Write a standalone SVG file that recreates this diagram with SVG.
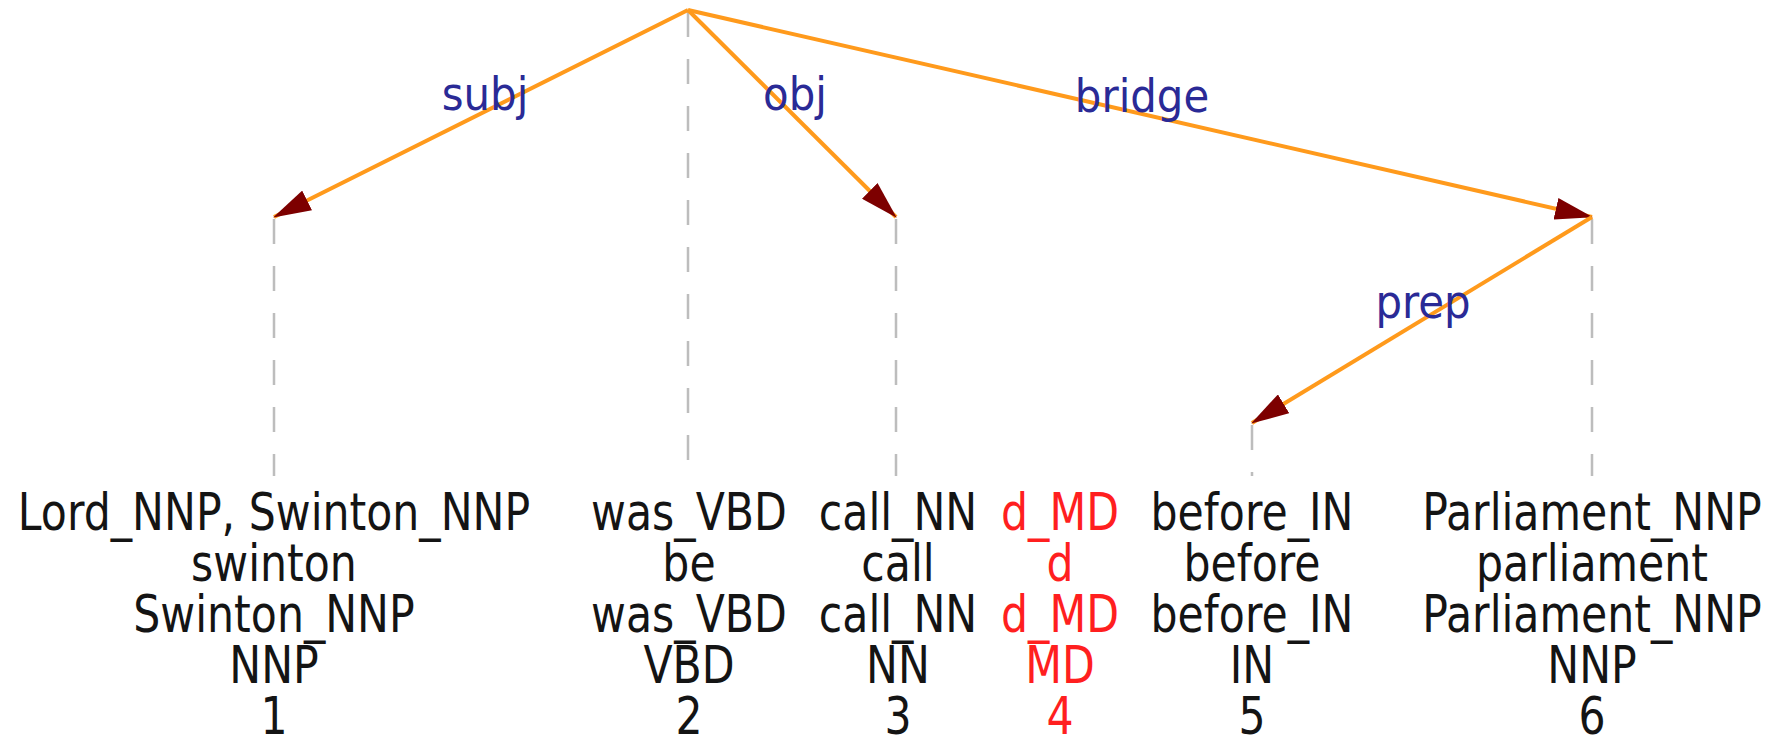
<svg xmlns="http://www.w3.org/2000/svg" width="1773" height="743" viewBox="0 0 1773 743">
  <style>
    .tok { font-family: "DejaVu Sans", "Liberation Sans", sans-serif; font-size: 52px; text-anchor: middle; fill: #141414; }
    .red .tok { fill: #ff1f1f; }
    .lbl { font-family: "DejaVu Sans", "Liberation Sans", sans-serif; font-size: 46px; text-anchor: middle; fill: #2a2a96; }
    .stem { stroke: #bdbdbd; stroke-width: 2.5; stroke-dasharray: 25 22; fill: none; }
    .edge { stroke: #ff9a1c; stroke-width: 4; fill: none; marker-end: url(#head); }
  </style>
  <defs>
    <marker id="head" markerUnits="userSpaceOnUse" markerWidth="38" markerHeight="22" refX="37" refY="11" orient="auto">
      <path d="M0,0 L38,11 L0,22 Z" fill="#7d0000"/>
    </marker>
  </defs>
  <rect width="1773" height="743" fill="#ffffff"/>

  <!-- token 1 -->
  <g id="node1">
    <line class="stem" x1="274" y1="219" x2="274" y2="476"/>
    <g transform="translate(274,0) scale(0.82,1)">
      <text class="tok" x="0" y="530">Lord_NNP, Swinton_NNP</text>
      <text class="tok" x="0" y="581">swinton</text>
      <text class="tok" x="0" y="632">Swinton_NNP</text>
      <text class="tok" x="0" y="683">NNP</text>
      <text class="tok" x="0" y="734">1</text>
    </g>
  </g>

  <!-- token 2 (root) -->
  <g id="node2">
    <line class="stem" x1="688" y1="12" x2="688" y2="476"/>
    <g transform="translate(689,0) scale(0.82,1)">
      <text class="tok" x="0" y="530">was_VBD</text>
      <text class="tok" x="0" y="581">be</text>
      <text class="tok" x="0" y="632">was_VBD</text>
      <text class="tok" x="0" y="683">VBD</text>
      <text class="tok" x="0" y="734">2</text>
    </g>
  </g>

  <!-- token 3 -->
  <g id="node3">
    <line class="stem" x1="896" y1="219" x2="896" y2="476"/>
    <g transform="translate(898,0) scale(0.82,1)">
      <text class="tok" x="0" y="530">call_NN</text>
      <text class="tok" x="0" y="581">call</text>
      <text class="tok" x="0" y="632">call_NN</text>
      <text class="tok" x="0" y="683">NN</text>
      <text class="tok" x="0" y="734">3</text>
    </g>
  </g>

  <!-- token 4 (highlighted) -->
  <g id="node4" class="red">
    <g transform="translate(1060,0) scale(0.82,1)">
      <text class="tok" x="0" y="530">d_MD</text>
      <text class="tok" x="0" y="581">d</text>
      <text class="tok" x="0" y="632">d_MD</text>
      <text class="tok" x="0" y="683">MD</text>
      <text class="tok" x="0" y="734">4</text>
    </g>
  </g>

  <!-- token 5 -->
  <g id="node5">
    <line class="stem" x1="1252" y1="425" x2="1252" y2="476"/>
    <g transform="translate(1252,0) scale(0.82,1)">
      <text class="tok" x="0" y="530">before_IN</text>
      <text class="tok" x="0" y="581">before</text>
      <text class="tok" x="0" y="632">before_IN</text>
      <text class="tok" x="0" y="683">IN</text>
      <text class="tok" x="0" y="734">5</text>
    </g>
  </g>

  <!-- token 6 -->
  <g id="node6">
    <line class="stem" x1="1592" y1="219" x2="1592" y2="476"/>
    <g transform="translate(1592,0) scale(0.82,1)">
      <text class="tok" x="0" y="530">Parliament_NNP</text>
      <text class="tok" x="0" y="581">parliament</text>
      <text class="tok" x="0" y="632">Parliament_NNP</text>
      <text class="tok" x="0" y="683">NNP</text>
      <text class="tok" x="0" y="734">6</text>
    </g>
  </g>

  <!-- dependency arcs -->
  <g id="edges">
    <line class="edge" x1="688" y1="10" x2="274" y2="217"/>
    <line class="edge" x1="688" y1="10" x2="896" y2="217"/>
    <line class="edge" x1="688" y1="10" x2="1592" y2="217"/>
    <line class="edge" x1="1592" y1="217" x2="1252" y2="423"/>
    <g transform="translate(485,110) scale(0.91,1)"><text class="lbl" x="0" y="0">subj</text></g>
    <g transform="translate(795,110) scale(0.91,1)"><text class="lbl" x="0" y="0">obj</text></g>
    <g transform="translate(1142,112) scale(0.91,1)"><text class="lbl" x="0" y="0">bridge</text></g>
    <g transform="translate(1423,318) scale(0.91,1)"><text class="lbl" x="0" y="0">prep</text></g>
  </g>
</svg>
